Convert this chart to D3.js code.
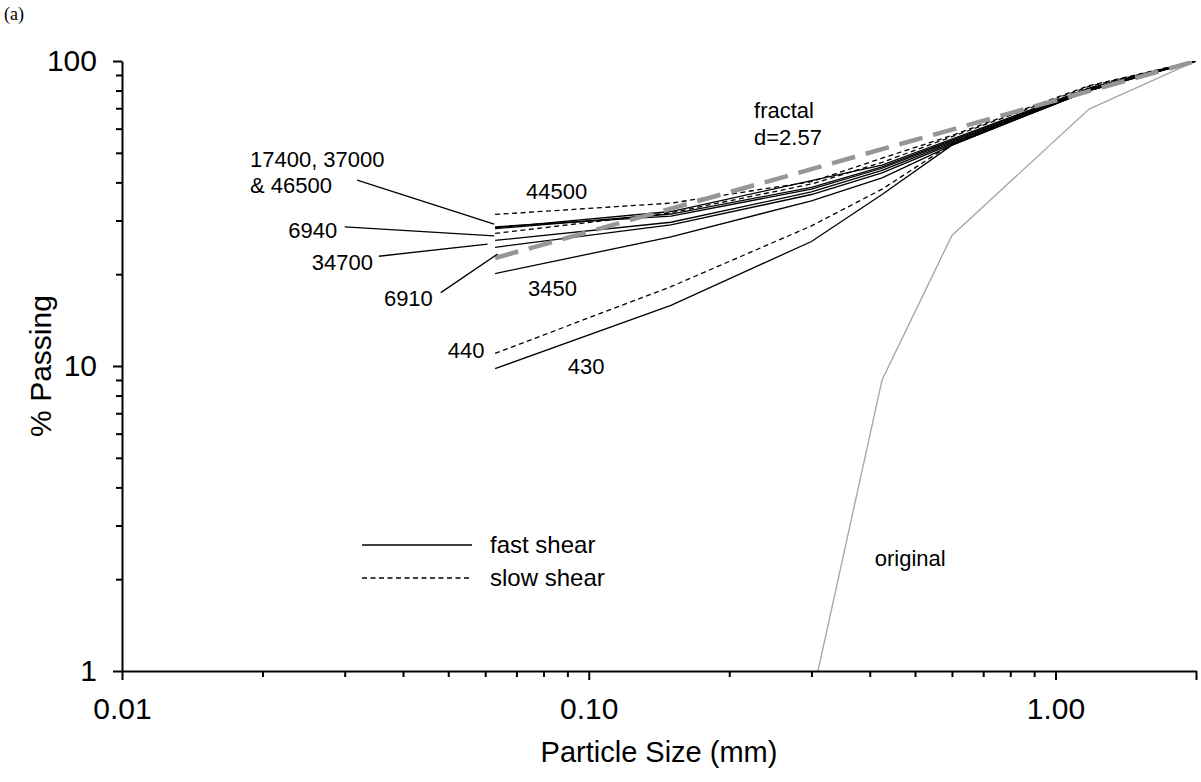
<!DOCTYPE html>
<html>
<head>
<meta charset="utf-8">
<script src="https://cdn.jsdelivr.net/npm/d3@7"></script>
<style>
body { margin: 0; background: #fff; }
svg text { font-family: "Liberation Sans", Arial, sans-serif; fill: #000; }
</style>
</head>
<body>
<div id="chart"></div>
<script>
// sieve sizes (mm) and % passing
const sieveSizes = [0.063, 0.15, 0.3, 0.425, 0.6, 1.18, 2.0];

const p44500 = [31.4, 34.2, 40.2, 48.0, 57.0, 83.0, 100];
const p17400 = [28.4, 32.1, 40.5, 45.6, 55.5, 81.5, 100];
const p37000 = [28.2, 31.5, 38.5, 45.0, 55.0, 81.0, 100];
const p46500 = [28.6, 31.0, 38.0, 44.5, 54.5, 80.5, 100];
const p6940 = [27.2, 31.8, 39.5, 46.5, 56.5, 82.5, 100];
const p34700 = [25.8, 29.6, 37.2, 43.8, 54.0, 80.5, 100];
const p6910 = [24.5, 29.0, 36.5, 43.0, 53.5, 80.0, 100];
const p3450 = [20.1, 26.5, 34.8, 41.4, 53.0, 80.0, 100];
const p440 = [11.0, 18.2, 28.8, 38.0, 53.5, 81.5, 100];
const p430 = [9.8, 15.8, 25.6, 36.5, 53.0, 80.0, 100];

const fractal = [22.6, 32.8, 44.2, 51.4, 59.6, 79.7, 100];

const originalSizes = [0.3, 0.425, 0.6, 1.18, 2.0];
const original = [0.8, 9.0, 26.8, 69.6, 100];

const series = [
    { name: "44500", values: p44500, slow: true },
    { name: "17400", values: p17400, slow: false },
    { name: "37000", values: p37000, slow: false },
    { name: "46500", values: p46500, slow: false },
    { name: "6940", values: p6940, slow: true },
    { name: "34700", values: p34700, slow: false },
    { name: "6910", values: p6910, slow: false },
    { name: "3450", values: p3450, slow: false },
    { name: "440", values: p440, slow: true },
    { name: "430", values: p430, slow: false }
];

// curve labels, placed in data units [mm, %]
const labels = [
    { text: "17400, 37000", at: [0.0188, 44.9] },
    { text: "& 46500", at: [0.0188, 36.9] },
    { text: "6940", at: [0.0227, 26.3] },
    { text: "34700", at: [0.0255, 20.6] },
    { text: "6910", at: [0.0364, 15.7] },
    { text: "440", at: [0.0499, 10.6] },
    { text: "44500", at: [0.0734, 35.3] },
    { text: "3450", at: [0.0741, 17.0] },
    { text: "430", at: [0.0902, 9.4] },
    { text: "fractal", at: [0.226, 65.0] },
    { text: "d=2.57", at: [0.226, 53.0] },
    { text: "original", at: [0.41, 2.21] }
];

const leaders = [
    [[0.0319, 40.7], [0.0627, 29.2]],
    [[0.0300, 28.6], [0.0627, 26.7]],
    [[0.0355, 22.9], [0.0607, 25.1]],
    [[0.0482, 17.4], [0.0638, 23.3]]
];

const xMajor = [0.01, 0.1, 1];
const xMinor = [0.02, 0.03, 0.04, 0.05, 0.06, 0.07, 0.08, 0.09,
                0.2, 0.3, 0.4, 0.5, 0.6, 0.7, 0.8, 0.9];
const yMajor = [1, 10, 100];
const yMinor = [2, 3, 4, 5, 6, 7, 8, 9, 20, 30, 40, 50, 60, 70, 80, 90];

const width = 1201,
    height = 782,
    margin = ({ top: 61, right: 5, bottom: 111, left: 122 });

const svg = d3.select("#chart")
    .append("svg")
    .attr("width", width)
    .attr("height", height);

const x = d3.scaleLog()
    .domain([0.01, 2])
    .range([margin.left, width - margin.right]);

const y = d3.scaleLog()
    .domain([1, 100])
    .range([height - margin.bottom, margin.top]);

svg.append("clipPath")
    .attr("id", "plot")
    .append("rect")
    .attr("x", margin.left)
    .attr("y", margin.top)
    .attr("width", width - margin.left - margin.right)
    .attr("height", height - margin.top - margin.bottom);

const line = d3.line()
    .x(d => x(d[0]))
    .y(d => y(d[1]));

const plot = svg.append("g").attr("clip-path", "url(#plot)");

// original gradation
plot.append("path")
    .attr("d", line(d3.zip(originalSizes, original)))
    .attr("fill", "none")
    .attr("stroke", "#a8a8a8")
    .attr("stroke-width", 1.4);

plot.selectAll(".test")
    .data(series)
    .join("path")
    .attr("class", "test")
    .attr("d", d => line(d3.zip(sieveSizes, d.values)))
    .attr("fill", "none")
    .attr("stroke", "#000")
    .attr("stroke-width", 1.3)
    .attr("stroke-dasharray", d => d.slow ? "5,3.5" : null);

plot.append("path")
    .attr("d", line(d3.zip(sieveSizes, fractal)))
    .attr("fill", "none")
    .attr("stroke", "#969696")
    .attr("stroke-width", 4.5)
    .attr("stroke-dasharray", "24,11");

// axes
function styleAxis(g) {
    g.selectAll("path.domain").attr("stroke-width", 2);
    g.selectAll("line").attr("stroke-width", 2);
    g.selectAll("text")
        .attr("font-size", 30)
        .attr("font-family", "Liberation Sans, Arial, sans-serif");
}

svg.append("g")
    .attr("transform", `translate(0, ${height - margin.bottom})`)
    .call(d3.axisBottom(x).tickValues(xMinor).tickSize(6).tickSizeOuter(0).tickFormat(""))
    .call(g => g.select(".domain").remove())
    .call(styleAxis);

svg.append("g")
    .attr("transform", `translate(0, ${height - margin.bottom})`)
    .call(d3.axisBottom(x).tickValues([...xMajor, 2]).tickSize(9).tickSizeOuter(0)
        .tickPadding(18).tickFormat(d => d === 2 ? "" : d3.format(".2f")(d)))
    .call(styleAxis);

svg.append("g")
    .attr("transform", `translate(${margin.left}, 0)`)
    .call(d3.axisLeft(y).tickValues(yMinor).tickSize(6).tickSizeOuter(0).tickFormat(""))
    .call(g => g.select(".domain").remove())
    .call(styleAxis);

svg.append("g")
    .attr("transform", `translate(${margin.left}, 0)`)
    .call(d3.axisLeft(y).tickValues(yMajor).tickSize(9).tickSizeOuter(0)
        .tickPadding(16).tickFormat(d3.format("d")))
    .call(styleAxis);

// axis titles
svg.append("text")
    .attr("x", (margin.left + width - margin.right) / 2)
    .attr("y", height - 20)
    .attr("text-anchor", "middle")
    .attr("font-size", 29)
    .text("Particle Size (mm)");

svg.append("text")
    .attr("transform", `translate(51, ${(margin.top + height - margin.bottom) / 2}) rotate(-90)`)
    .attr("text-anchor", "middle")
    .attr("font-size", 30)
    .text("% Passing");

svg.append("text")
    .attr("x", 4)
    .attr("y", 20)
    .attr("font-size", 18)
    .style("font-family", "Liberation Serif, Times New Roman, serif")
    .text("(a)");

// curve labels and leaders
svg.selectAll(".leader")
    .data(leaders)
    .join("path")
    .attr("class", "leader")
    .attr("d", line)
    .attr("stroke", "#000")
    .attr("stroke-width", 1.3);

svg.selectAll(".lbl")
    .data(labels)
    .join("text")
    .attr("class", "lbl")
    .attr("x", d => x(d.at[0]))
    .attr("y", d => y(d.at[1]))
    .attr("font-size", 22)
    .text(d => d.text);

// legend
const legend = svg.append("g").attr("transform", "translate(362, 545)");
const legendItems = [
    { label: "fast shear", dash: null },
    { label: "slow shear", dash: "5,3.5" }
];
legendItems.forEach((d, i) => {
    legend.append("line")
        .attr("x1", 0).attr("x2", 110)
        .attr("y1", i * 33).attr("y2", i * 33)
        .attr("stroke", "#000")
        .attr("stroke-width", 1.3)
        .attr("stroke-dasharray", d.dash);
    legend.append("text")
        .attr("x", 128)
        .attr("y", i * 33 + 8)
        .attr("font-size", 24)
        .text(d.label);
});
</script>
</body>
</html>
